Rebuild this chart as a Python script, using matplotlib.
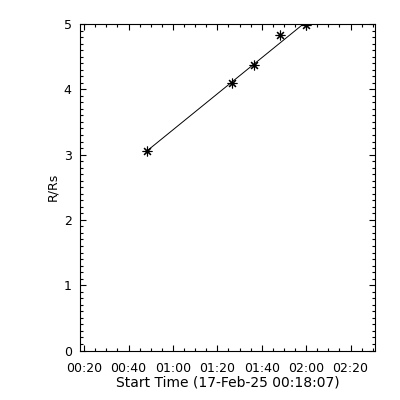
"""R/Rs height-time plot"""

from datetime import datetime
import matplotlib
matplotlib.use('Agg')
import matplotlib.pyplot as plt
import matplotlib.dates as mdates
from matplotlib.ticker import MultipleLocator

DAY = '2025-02-17 '

# measured points
times = ['00:48:25', '01:26:25', '01:36:31', '01:48:15', '01:59:49']
heights = [3.06, 4.10, 4.37, 4.83, 4.99]

# fitted line end points
fit_times = ['00:48:25', '01:59:49']
fit_heights = [3.06, 5.03]

x_start = '00:18:07'
x_end = '02:31:00'
y_min, y_max = 0, 5

x_label = 'Start Time (17-Feb-25 00:18:07)'
y_label = 'R/Rs'


def T(s):
    return datetime.strptime(DAY + s, '%Y-%m-%d %H:%M:%S')


plt.rcParams['font.family'] = ['DejaVu Sans']

fig = plt.figure(figsize=(4, 4), dpi=100)
ax = fig.add_axes([0.2, 0.12375, 0.7375, 0.81625])

ax.plot([T(t) for t in fit_times], fit_heights, color='black', linewidth=0.7)
ax.plot([T(t) for t in times], heights, linestyle='none', marker=(8, 2, 0),
        markersize=7, markeredgewidth=0.8, color='black')

ax.set_xlim(T(x_start), T(x_end))
ax.set_ylim(y_min, y_max)

ax.xaxis.set_major_locator(mdates.MinuteLocator(byminute=[0, 20, 40]))
ax.xaxis.set_minor_locator(mdates.MinuteLocator(byminute=range(0, 60, 5)))
ax.xaxis.set_major_formatter(mdates.DateFormatter('%H:%M'))
ax.yaxis.set_major_locator(MultipleLocator(1))
ax.yaxis.set_minor_locator(MultipleLocator(0.1))

ax.tick_params(which='both', direction='in', top=True, right=True,
               width=0.8, colors='black')
ax.tick_params(which='major', length=4.3)
ax.tick_params(which='minor', length=2.2)
ax.tick_params(axis='x', labelsize=9, pad=8)
ax.tick_params(axis='y', labelsize=9, pad=6)

for s in ax.spines.values():
    s.set_linewidth(0.8)

ax.set_xlabel(x_label, fontsize=10, labelpad=1)
ax.set_ylabel(y_label, fontsize=9, labelpad=3)

fig.savefig('out.png', dpi=100, facecolor='white')
